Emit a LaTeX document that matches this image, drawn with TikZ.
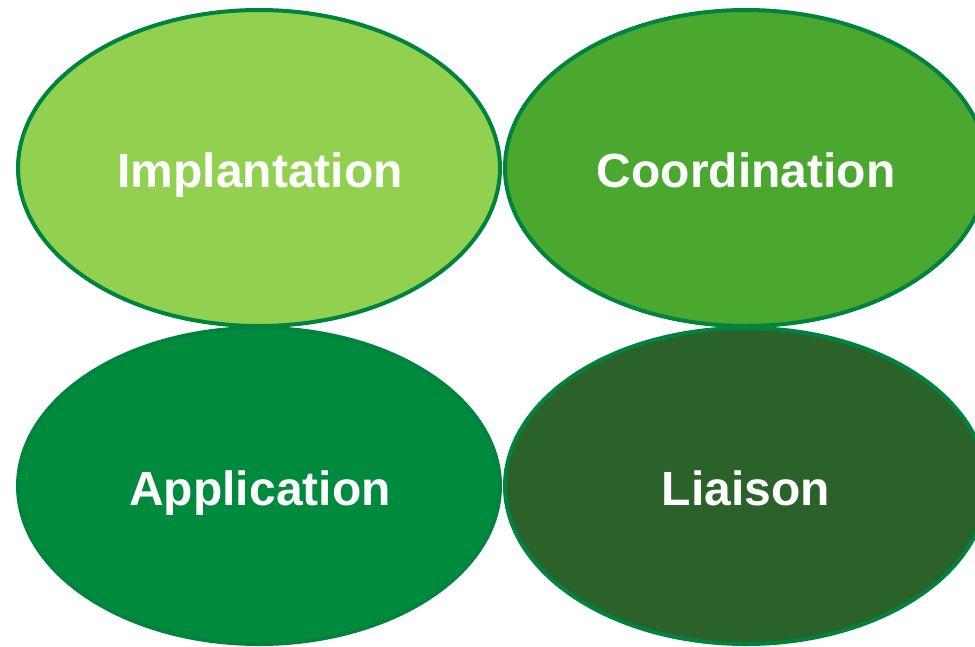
\documentclass[tikz,border=0pt]{standalone}
\usepackage{fontspec}
\setmainfont{Liberation Sans}
\definecolor{cA}{HTML}{92D050}
\definecolor{cB}{HTML}{4AA82F}
\definecolor{cC}{HTML}{008A3E}
\definecolor{cD}{HTML}{2A622A}
\definecolor{edge}{HTML}{00843D}
\tikzset{
  blob/.style={draw=edge, line width=4pt},
  lab/.style={text=white, anchor=base, inner sep=0pt, font=\fontsize{48}{56}\selectfont\bfseries}
}
\begin{document}
\begin{tikzpicture}[x=1pt,y=-1pt]
\useasboundingbox (0,0) rectangle (975,646);
\clip (0,0) rectangle (975,646);
\draw[blob, fill=cA] (259,168) ellipse [x radius=241, y radius=158];
\draw[blob, fill=cB] (746,168) ellipse [x radius=241, y radius=158];
\draw[blob, fill=cC] (259,486) ellipse [x radius=241, y radius=158];
\draw[blob, fill=cD] (746,486) ellipse [x radius=241, y radius=158];
\node[lab] (t1) at (260,187) {Implantation};
\node[lab] (t2) at (746,187) {Coordination};
\node[lab] (t3) at (260,505) {Application};
\node[lab] (t4) at (746,505) {Liaison};
\end{tikzpicture}
\end{document}
